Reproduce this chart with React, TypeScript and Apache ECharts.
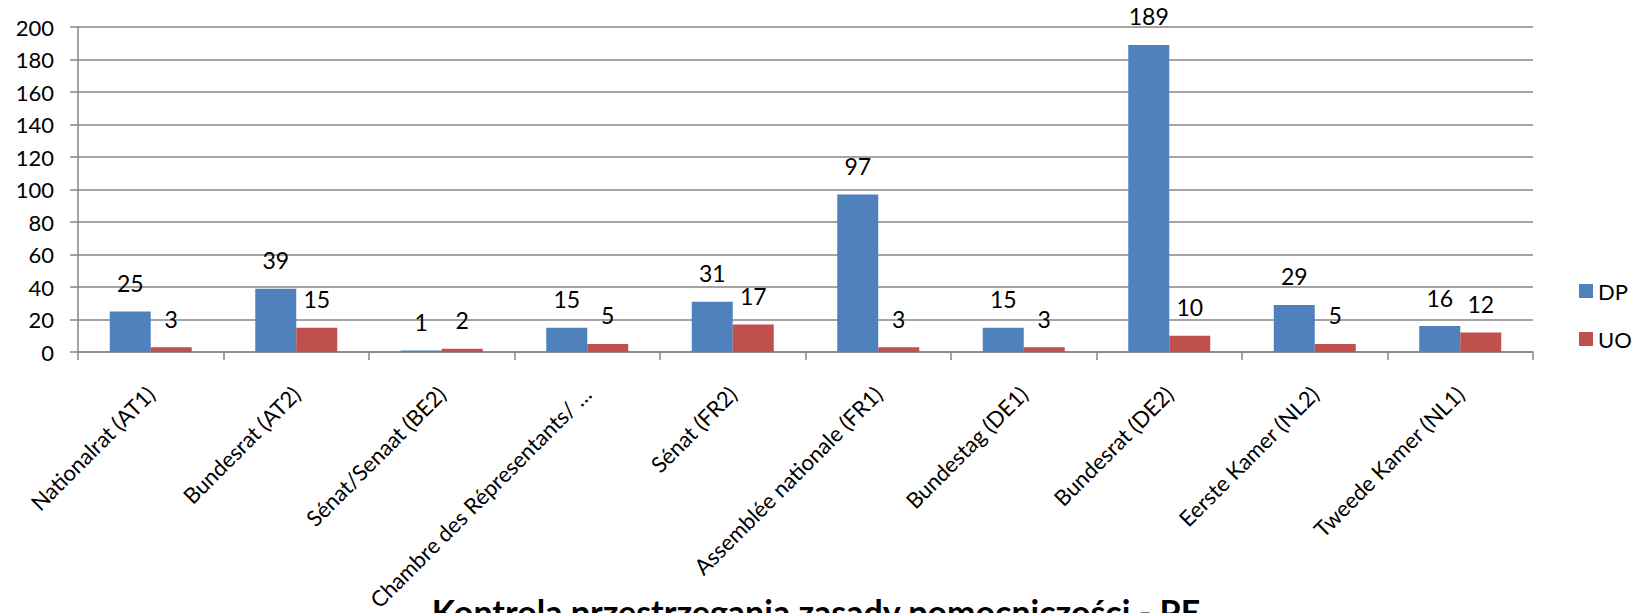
import React, { useEffect, useRef } from "react";
import * as echarts from "echarts";

const categories = [
  "Nationalrat (AT1)",
  "Bundesrat (AT2)",
  "Sénat/Senaat (BE2)",
  "Chambre des Répresentants/ …",
  "Sénat (FR2)",
  "Assemblée nationale (FR1)",
  "Bundestag (DE1)",
  "Bundesrat (DE2)",
  "Eerste Kamer (NL2)",
  "Tweede Kamer (NL1)",
];
const dpValues = [25, 39, 1, 15, 31, 97, 15, 189, 29, 16];
const uoValues = [3, 15, 2, 5, 17, 3, 3, 10, 5, 12];
const seriesNames = ["DP", "UO"];
const titleText = "Kontrola przestrzegania zasady pomocniczości - PE";

const FONT = "Lato, 'Open Sans', sans-serif";

export default function App() {
  const ref = useRef<HTMLDivElement>(null);
  useEffect(() => {
    if (!ref.current) return;
    const chart = echarts.init(ref.current, undefined, { renderer: "svg" });
    const labelCfg = {
      show: true,
      position: "top" as const,
      distance: 17,
      color: "#000",
      fontSize: 23,
      fontFamily: FONT,
    };
    chart.setOption({
      animation: false,
      backgroundColor: "#fff",
      textStyle: { fontFamily: FONT },
      title: {
        text: titleText,
        left: 811,
        top: 589,
        textAlign: "center",
        textStyle: { fontSize: 34, fontWeight: "bold", color: "#000", fontFamily: FONT },
      },
      legend: {
        orient: "vertical",
        left: 1574,
        top: 275,
        itemWidth: 14,
        itemHeight: 14,
        itemGap: 26,
        icon: "rect",
        textStyle: { fontSize: 22, color: "#000", fontFamily: FONT },
        data: seriesNames,
      },
      grid: {
        left: 78,
        right: 100,
        top: 27,
        bottom: 261,
        containLabel: false,
        outerBoundsMode: "none",
      },
      xAxis: {
        type: "category",
        data: categories,
        axisLine: { lineStyle: { color: "#868686", width: 1.5 } },
        axisTick: { show: true, length: 8, lineStyle: { color: "#868686", width: 1.5 } },
        axisLabel: {
          rotate: 45,
          interval: 0,
          margin: 38,
          fontSize: 22,
          color: "#000",
          fontFamily: FONT,
        },
      },
      yAxis: {
        type: "value",
        min: 0,
        max: 200,
        interval: 20,
        axisLine: { show: true, lineStyle: { color: "#868686", width: 1.5 } },
        axisTick: { show: true, length: 8, lineStyle: { color: "#868686", width: 1.5 } },
        splitLine: { lineStyle: { color: "#868686", width: 1.5 } },
        axisLabel: { margin: 24, fontSize: 22, color: "#000", fontFamily: FONT },
      },
      series: [
        {
          name: seriesNames[0],
          type: "bar",
          data: dpValues,
          barWidth: 41,
          barGap: "0%",
          itemStyle: { color: "#4F81BD" },
          label: labelCfg,
        },
        {
          name: seriesNames[1],
          type: "bar",
          data: uoValues,
          barWidth: 41,
          barGap: "0%",
          itemStyle: { color: "#C0504D" },
          label: labelCfg,
        },
      ],
    });
    return () => chart.dispose();
  }, []);
  return (
    <div
      ref={ref}
      style={{ position: "absolute", left: 0, top: 0, width: 1633, height: 613 }}
    />
  );
}
